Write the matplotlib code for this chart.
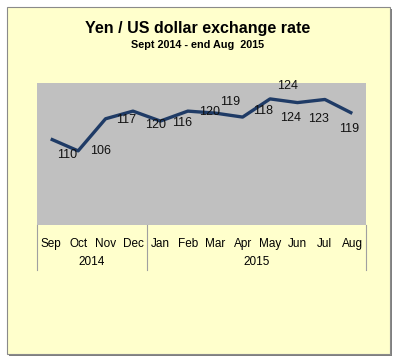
import matplotlib
matplotlib.use('Agg')
from matplotlib import pyplot as plt
from matplotlib.patches import Rectangle
import matplotlib.transforms as mtransforms

months = ['Sep', 'Oct', 'Nov', 'Dec', 'Jan', 'Feb', 'Mar', 'Apr', 'May', 'Jun', 'Jul', 'Aug']
years = ['2014', '2015']
year_counts = [4, 8]
# yen per US dollar
rates = [110.3, 106.1, 117.4, 120.1, 116.6, 120.1, 119.4, 118.0, 124.4, 123.1, 124.2, 119.3]
# labels as printed on the chart
rate_labels = ['110', '106', '117', '120', '116', '120', '119', '118', '124', '124', '123', '119']

# where each label sits relative to its point (pixels, y up)
label_offsets = [(16, -16), (22, 0), (21, -1), (23, -14), (22, -2), (22, -1),
                 (15, 11), (20, 6), (18, 13), (-7, -15), (-6, -20), (-3, -16)]

plt.rcParams['font.family'] = ['Liberation Sans', 'DejaVu Sans']

fig = plt.figure(figsize=(3.99, 3.63), dpi=100, facecolor='white')
W, H = 399.0, 363.0

# yellow panel with a grey drop shadow
fig.patches.append(Rectangle((9 / W, 1 - 356 / H), 383 / W, 347 / H, transform=fig.transFigure,
                             facecolor='#7f7f7f', edgecolor='none', zorder=-2))
fig.patches.append(Rectangle((7 / W, 1 - 354 / H), 383 / W, 347 / H, transform=fig.transFigure,
                             facecolor='#FFFFCC', edgecolor='#8a8a8a', linewidth=0.8, zorder=-1))

fig.text(198 / W, 1 - 28 / H, 'Yen / US dollar exchange rate', ha='center', va='center',
         fontsize=11.5, fontweight='bold')
fig.text(198 / W, 1 - 45 / H, 'Sept 2014 - end Aug  2015', ha='center', va='center',
         fontsize=7.8, fontweight='bold')

ax = fig.add_axes([37 / W, 1 - 225 / H, 329 / W, 142 / H])
ax.set_facecolor('#C0C0C0')
for s in ax.spines.values():
    s.set_visible(False)

x = list(range(len(months)))
ax.plot(x, rates, color='#1F3B66', linewidth=2.4, solid_joinstyle='round', solid_capstyle='butt')
for i, lab in enumerate(rate_labels):
    ax.annotate(lab, (x[i], rates[i]), xytext=label_offsets[i], textcoords='offset pixels',
                ha='center', va='center', fontsize=9, color='#111111')

ax.set_xlim(-0.5, len(months) - 0.5)
ax.set_ylim(80, 130)
ax.set_yticks([])
ax.set_xticks(x)
ax.set_xticklabels(months, fontsize=8.5)
ax.tick_params(axis='x', length=0, pad=9)

# year row and group separators under the axis
trans = mtransforms.blended_transform_factory(ax.transData, ax.transAxes)
edges = [-0.5]
for c in year_counts:
    edges.append(edges[-1] + c)
for e in edges:
    ax.plot([e, e], [0, -45 / 142], transform=trans, color='#a0a0a0', linewidth=0.8, clip_on=False)
for j, yr in enumerate(years):
    ax.text((edges[j] + edges[j + 1]) / 2, -37 / 142, yr, transform=trans,
            ha='center', va='center', fontsize=8.5)

fig.savefig('out.png', dpi=100)
